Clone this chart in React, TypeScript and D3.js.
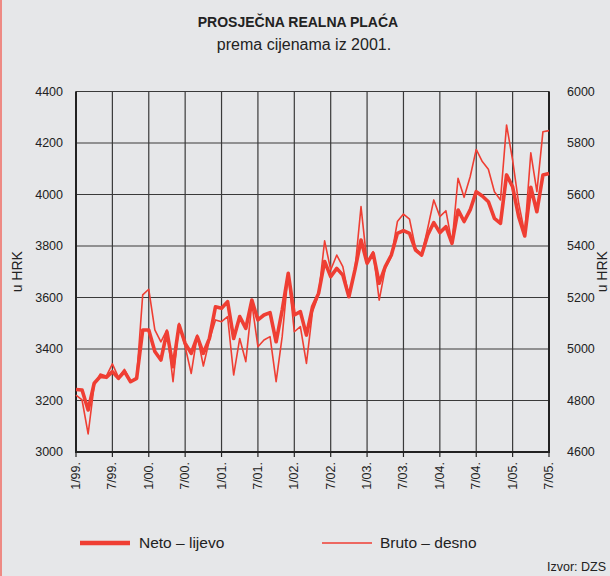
import React from 'react';
import * as d3 from 'd3';

// monthly 1/99 .. 7/05
const neto = [
  3243, 3241, 3163, 3267, 3293, 3290, 3312, 3286, 3312, 3273, 3286, 3474,
  3474, 3390, 3357, 3467, 3331, 3493, 3422, 3383, 3448, 3383, 3441, 3564,
  3558, 3584, 3441, 3526, 3480, 3590, 3513, 3532, 3541, 3428, 3551, 3694,
  3532, 3545, 3454, 3564, 3616, 3740, 3681, 3713, 3687, 3603, 3707, 3823,
  3733, 3772, 3655, 3720, 3765, 3849, 3860, 3849, 3784, 3765, 3843, 3891,
  3852, 3875, 3810, 3940, 3895, 3940, 4011, 3994, 3972, 3907, 3888, 4076,
  4030, 3914, 3839, 4028, 3933, 4076, 4082,
];
const bruto = [
  4821, 4802, 4670, 4860, 4903, 4895, 4942, 4890, 4921, 4873, 4886, 5210,
  5232, 5074, 5028, 5074, 4873, 5100, 5009, 4905, 5054, 4934, 5035, 5113,
  5106, 5126, 4899, 5041, 4951, 5177, 5009, 5035, 5048, 4873, 5048, 5294,
  5067, 5087, 4944, 5145, 5210, 5420, 5307, 5365, 5320, 5203, 5307, 5553,
  5333, 5378, 5190, 5313, 5359, 5495, 5524, 5504, 5391, 5365, 5469, 5579,
  5514, 5537, 5410, 5663, 5589, 5669, 5775, 5728, 5698, 5611, 5579, 5870,
  5734, 5566, 5449, 5762, 5611, 5844, 5848,
];
const xLabels = ['1/99.', '7/99.', '1/00.', '7/00.', '1/01.', '7/01.', '1/02.', '7/02.', '1/03.', '7/03.', '1/04.', '7/04.', '1/05.', '7/05.'];
const leftTicks = [3000, 3200, 3400, 3600, 3800, 4000, 4200, 4400];
const rightTicks = [4600, 4800, 5000, 5200, 5400, 5600, 5800, 6000];

const W = 610, H = 576;
const L = 76, R = 549, T = 91.5, B = 452;
const FONT = 'Liberation Sans, Arial, Helvetica, sans-serif';
const RED = '#ef3e33';

export default function App() {
  const x = d3.scaleLinear().domain([0, 78]).range([L, R]);
  const yL = d3.scaleLinear().domain([3000, 4400]).range([B, T]);
  const yR = d3.scaleLinear().domain([4600, 6000]).range([B, T]);
  const netoLine = d3.line<number>().x((_, i) => x(i)).y(d => yL(d))(neto) || '';
  const brutoLine = d3.line<number>().x((_, i) => x(i)).y(d => yR(d))(bruto) || '';

  return (
    <svg width={W} height={H} style={{ position: 'absolute', left: 0, top: 0, fontFamily: FONT }}>
      <rect x={0} y={0} width={W} height={H} fill="#e6e7e9" />
      <rect x={0} y={0} width={2} height={H} fill="#ee8a84" />

      <text x={298} y={27} textAnchor="middle" fontSize={14} fontWeight="bold" fill="#222">PROSJEČNA REALNA PLAĆA</text>
      <text x={304} y={50} textAnchor="middle" fontSize={16} fill="#222">prema cijenama iz 2001.</text>

      {leftTicks.map(t => (
        <line key={'h' + t} x1={L} x2={R} y1={yL(t)} y2={yL(t)} stroke="#3a3a3a" strokeWidth={1.2} />
      ))}
      {xLabels.map((_, k) => (
        <line key={'v' + k} x1={x(k * 6)} x2={x(k * 6)} y1={T} y2={B} stroke="#3a3a3a" strokeWidth={1.2} />
      ))}
      <line x1={L} x2={L} y1={T} y2={B + 1} stroke="#222" strokeWidth={2} />
      <line x1={R} x2={R} y1={T} y2={B + 1} stroke="#222" strokeWidth={2} />
      <line x1={L - 1} x2={R + 1} y1={B} y2={B} stroke="#222" strokeWidth={2} />
      {xLabels.map((_, k) => (
        <line key={'t' + k} x1={x(k * 6)} x2={x(k * 6)} y1={B} y2={B + 5} stroke="#222" strokeWidth={1.2} />
      ))}

      <path d={brutoLine} fill="none" stroke={RED} strokeWidth={1.6} strokeLinejoin="round" />
      <path d={netoLine} fill="none" stroke={RED} strokeWidth={3.6} strokeLinejoin="round" />

      {leftTicks.map(t => (
        <text key={'lt' + t} x={63} y={yL(t) + 4} textAnchor="end" fontSize={12.5} fill="#222">{t}</text>
      ))}
      {rightTicks.map(t => (
        <text key={'rt' + t} x={567} y={yR(t) + 4} textAnchor="start" fontSize={12.5} fill="#222">{t}</text>
      ))}
      <text transform={`translate(22,${(T + B) / 2}) rotate(-90)`} textAnchor="middle" fontSize={14} fill="#222">u HRK</text>
      <text transform={`translate(607,${(T + B) / 2}) rotate(-90)`} textAnchor="middle" fontSize={14} fill="#222">u HRK</text>

      {xLabels.map((lab, k) => (
        <text key={'xl' + k} transform={`translate(${x(k * 6) + 4},${B + 10}) rotate(-90)`} textAnchor="end" fontSize={12.5} fill="#222">{lab}</text>
      ))}

      <line x1={80} x2={130} y1={543} y2={543} stroke={RED} strokeWidth={4.5} />
      <text x={139} y={548} fontSize={15.5} fill="#222">Neto – lijevo</text>
      <line x1={322} x2={372} y1={543} y2={543} stroke={RED} strokeWidth={1.6} />
      <text x={380} y={548} fontSize={15.5} fill="#222">Bruto – desno</text>
      <text x={547} y={571} fontSize={12.5} fill="#222">Izvor: DZS</text>
    </svg>
  );
}
